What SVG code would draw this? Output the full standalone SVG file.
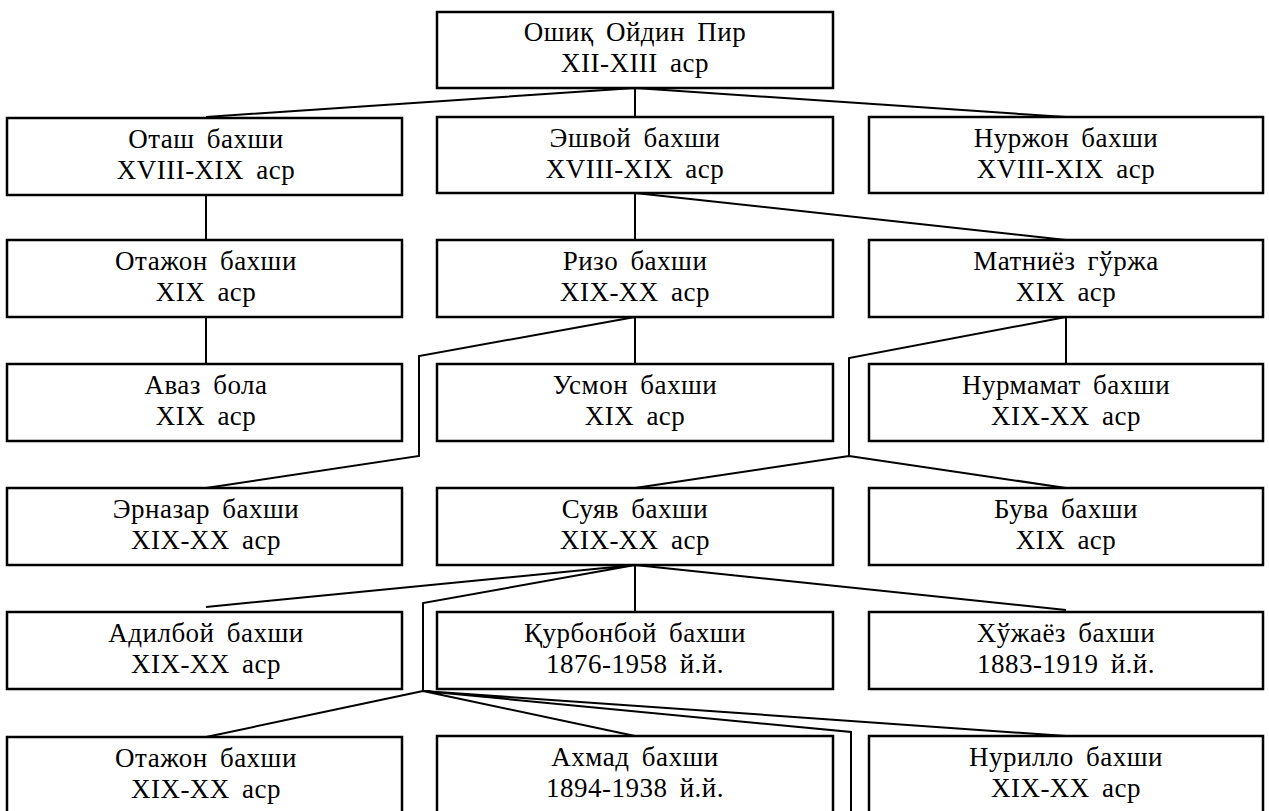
<svg xmlns="http://www.w3.org/2000/svg" width="1269" height="811" viewBox="0 0 1269 811">
<style>
.box rect{fill:#fff;stroke:#000;stroke-width:2.5}
.box text{font-family:'Liberation Serif','DejaVu Serif',serif;font-size:27px;text-anchor:middle;fill:#000;letter-spacing:0.5px;word-spacing:5px}
#connectors{fill:none;stroke:#000;stroke-width:2;stroke-linejoin:miter}
</style>
<rect width="1269" height="811" fill="#fff"/>
<g id="connectors">
<path d="M635,88L206,117M635,88V117M635,88L1066,117"/>
<path d="M206,195V240M206,317V364"/>
<path d="M635,193V240M635,193L1066,240"/>
<path d="M635,317V364M635,317L419,356V456L206,488"/>
<path d="M1066,317V364M1066,317L849,358V456M849,456L635,488M849,456L1066,488"/>
<path d="M635,565L206,607M635,565V612M635,565L1066,610M635,565L423,603V691"/>
<path d="M423,691L206,737M423,691L635,736M423,691L1066,736M423,691L851,732V811"/>
</g>
<g id="n0" class="box"><rect x="437" y="12" width="396" height="76"/><text x="635" y="41">Ошиқ Ойдин Пир</text><text x="635" y="72">XII-XIII аср</text></g>
<g id="n1" class="box"><rect x="7" y="118" width="395" height="77"/><text x="206" y="148">Оташ бахши</text><text x="206" y="179">XVIII-XIX аср</text></g>
<g id="n2" class="box"><rect x="437" y="117" width="396" height="76"/><text x="635" y="147">Эшвой бахши</text><text x="635" y="178">XVIII-XIX аср</text></g>
<g id="n3" class="box"><rect x="869" y="117" width="394" height="76"/><text x="1066" y="147">Нуржон бахши</text><text x="1066" y="178">XVIII-XIX аср</text></g>
<g id="n4" class="box"><rect x="7" y="240" width="395" height="77"/><text x="206" y="270">Отажон бахши</text><text x="206" y="301">XIX аср</text></g>
<g id="n5" class="box"><rect x="437" y="240" width="396" height="77"/><text x="635" y="270">Ризо бахши</text><text x="635" y="301">XIX-XX аср</text></g>
<g id="n6" class="box"><rect x="869" y="240" width="394" height="77"/><text x="1066" y="270">Матниёз гўржа</text><text x="1066" y="301">XIX аср</text></g>
<g id="n7" class="box"><rect x="7" y="364" width="395" height="77"/><text x="206" y="394">Аваз бола</text><text x="206" y="425">XIX аср</text></g>
<g id="n8" class="box"><rect x="437" y="364" width="396" height="77"/><text x="635" y="394">Усмон бахши</text><text x="635" y="425">XIX аср</text></g>
<g id="n9" class="box"><rect x="869" y="364" width="394" height="77"/><text x="1066" y="394">Нурмамат бахши</text><text x="1066" y="425">XIX-XX аср</text></g>
<g id="n10" class="box"><rect x="7" y="488" width="395" height="77"/><text x="206" y="518">Эрназар бахши</text><text x="206" y="549">XIX-XX аср</text></g>
<g id="n11" class="box"><rect x="437" y="488" width="396" height="77"/><text x="635" y="518">Суяв бахши</text><text x="635" y="549">XIX-XX аср</text></g>
<g id="n12" class="box"><rect x="869" y="488" width="394" height="77"/><text x="1066" y="518">Бува бахши</text><text x="1066" y="549">XIX аср</text></g>
<g id="n13" class="box"><rect x="7" y="612" width="395" height="77"/><text x="206" y="642">Адилбой бахши</text><text x="206" y="673">XIX-XX аср</text></g>
<g id="n14" class="box"><rect x="437" y="612" width="396" height="77"/><text x="635" y="642">Қурбонбой бахши</text><text x="635" y="673">1876-1958 й.й.</text></g>
<g id="n15" class="box"><rect x="869" y="612" width="394" height="77"/><text x="1066" y="642">Хўжаёз бахши</text><text x="1066" y="673">1883-1919 й.й.</text></g>
<g id="n16" class="box"><rect x="7" y="737" width="395" height="80"/><text x="206" y="767">Отажон бахши</text><text x="206" y="798">XIX-XX аср</text></g>
<g id="n17" class="box"><rect x="437" y="736" width="396" height="80"/><text x="635" y="766">Ахмад бахши</text><text x="635" y="797">1894-1938 й.й.</text></g>
<g id="n18" class="box"><rect x="869" y="736" width="394" height="80"/><text x="1066" y="766">Нурилло бахши</text><text x="1066" y="797">XIX-XX аср</text></g>
</svg>
